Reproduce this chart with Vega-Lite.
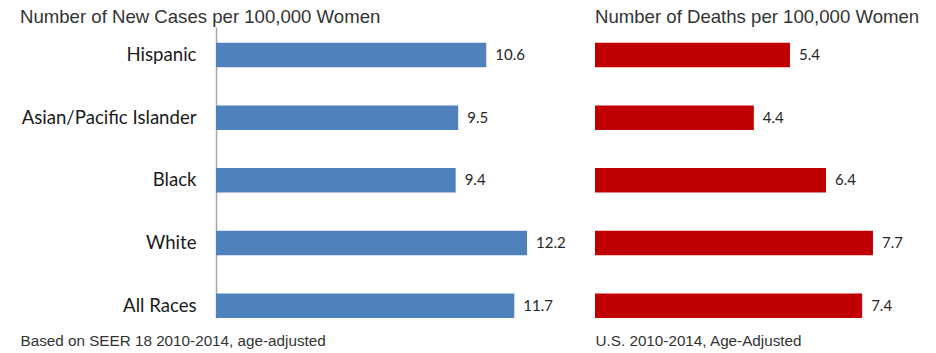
{
  "$schema": "https://vega.github.io/schema/vega-lite/v6.json",
  "background": "white",
  "padding": {"left": 20, "top": 7, "right": 0, "bottom": 0},
  "bounds": "flush",
  "spacing": 19,
  "data": {"values": [
    {"race": "Hispanic", "cases": 10.6, "deaths": 5.4},
    {"race": "Asian/Pacific Islander", "cases": 9.5, "deaths": 4.4},
    {"race": "Black", "cases": 9.4, "deaths": 6.4},
    {"race": "White", "cases": 12.2, "deaths": 7.7},
    {"race": "All Races", "cases": 11.7, "deaths": 7.4}
  ]},
  "config": {"view": {"stroke": null}, "font": "Lato"},
  "hconcat": [
    {
      "width": 360,
      "height": 291,
      "title": {"text": "Number of New Cases per 100,000 Women", "anchor": "start", "frame": "group", "dx": -196, "font": "Liberation Sans", "fontSize": 18.6, "fontWeight": "normal", "color": "#333333", "offset": 0.5},
      "encoding": {
        "y": {"field": "race", "type": "nominal", "sort": ["Hispanic", "Asian/Pacific Islander", "Black", "White", "All Races"],
          "scale": {"paddingInner": 0.609, "paddingOuter": 0.125, "align": 1},
          "axis": {"title": null, "ticks": false, "domain": true, "domainColor": "#a6a6a6", "domainWidth": 1.5, "labelPadding": 20, "labelFont": "Lato", "labelFontSize": 18.6, "labelColor": "#1a1a1a", "labelLimit": 300, "grid": false}},
        "x": {"field": "cases", "type": "quantitative", "scale": {"domain": [0, 14.12]},
          "axis": {"title": "Based on SEER 18 2010-2014, age-adjusted", "labels": false, "ticks": false, "domain": false, "grid": false, "titleAnchor": "start", "titleAlign": "left", "titleX": -196, "titleY": 27, "titleBaseline": "alphabetic", "titleFont": "Liberation Sans", "titleFontSize": 15.25, "titleFontWeight": "normal", "titleColor": "#333333"}}
      },
      "layer": [
        {"mark": {"type": "bar", "color": "#4F81BD"}},
        {"mark": {"type": "text", "align": "left", "baseline": "middle", "dx": 9, "font": "Lato", "fontSize": 15, "color": "#262626"},
          "encoding": {"text": {"field": "cases", "type": "quantitative", "format": ".1f"}}}
      ]
    },
    {
      "width": 320,
      "height": 291,
      "title": {"text": "Number of Deaths per 100,000 Women", "anchor": "start", "frame": "group", "font": "Liberation Sans", "fontSize": 18.6, "fontWeight": "normal", "color": "#333333", "offset": 0.5},
      "encoding": {
        "y": {"field": "race", "type": "nominal", "sort": ["Hispanic", "Asian/Pacific Islander", "Black", "White", "All Races"],
          "scale": {"paddingInner": 0.609, "paddingOuter": 0.125, "align": 1},
          "axis": null},
        "x": {"field": "deaths", "type": "quantitative", "scale": {"domain": [0, 8.864]},
          "axis": {"title": "U.S. 2010-2014, Age-Adjusted", "labels": false, "ticks": false, "domain": false, "grid": false, "titleAnchor": "start", "titleAlign": "left", "titleX": 0, "titleY": 27, "titleBaseline": "alphabetic", "titleFont": "Liberation Sans", "titleFontSize": 15.25, "titleFontWeight": "normal", "titleColor": "#333333"}}
      },
      "layer": [
        {"mark": {"type": "bar", "color": "#C00000"}},
        {"mark": {"type": "text", "align": "left", "baseline": "middle", "dx": 9, "font": "Lato", "fontSize": 15, "color": "#262626"},
          "encoding": {"text": {"field": "deaths", "type": "quantitative", "format": ".1f"}}}
      ]
    }
  ]
}
